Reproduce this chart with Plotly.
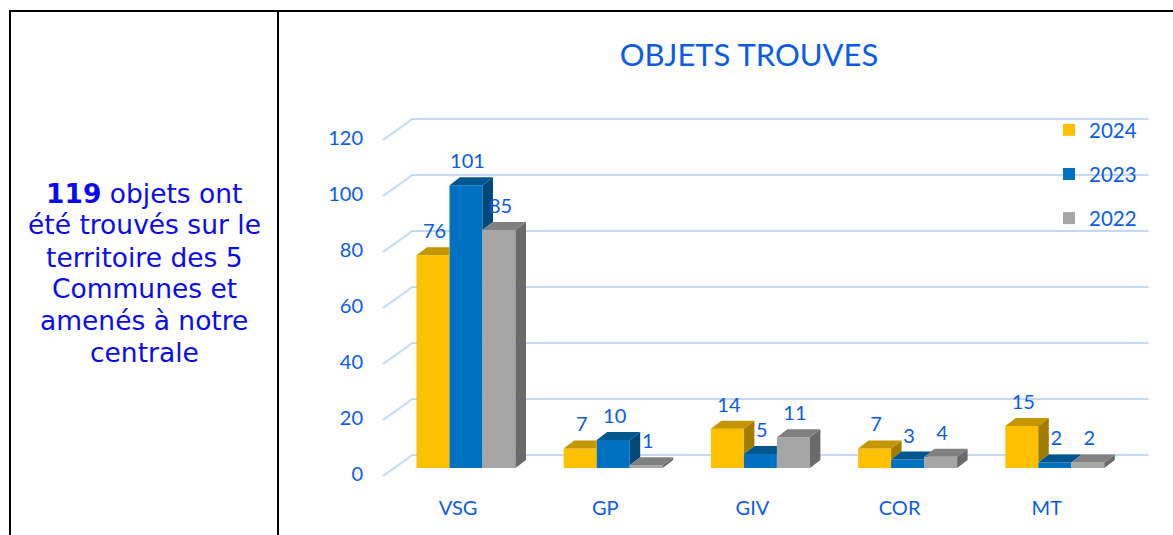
import plotly.graph_objects as go

# ---------------- data ----------------
categories = ["VSG", "GP", "GIV", "COR", "MT"]
series_names = ["2024", "2023", "2022"]
values_2024 = [76, 7, 14, 7, 15]
values_2023 = [101, 10, 5, 3, 2]
values_2022 = [85, 1, 11, 4, 2]
y_ticks = [0, 20, 40, 60, 80, 100, 120]
title_text = "OBJETS TROUVES"
side_lines = ["<b>119</b> objets ont", "été trouvés sur le", "territoire des 5",
              "Communes et", "amenés à notre", "centrale"]

# ---------------- styling / geometry ----------------
W, H = 1173, 535
X_C0, X_STEP = 466.0, 147.2      # px of category 0 centre, px per category
Y0, Y_SCALE = 468.0, 2.8         # px of value 0, px per unit
DOM_L, DOM_R, DOM_T, DOM_B = 372, 1160, 100, 490

front_cols = ["#FFC000", "#0070C0", "#A5A5A5"]
top_cols = ["#C49600", "#00578F", "#808080"]
side_cols = ["#A27C00", "#00487A", "#6A6A6A"]
grid_col = "#C3D7F7"
txt_col = "#0B5CE5"
left_col = "#0A0AF0"
FONT = "Lato"

BAR_W = 33 / X_STEP
DDX = 10.5 / X_STEP
DDY = 8 / Y_SCALE
BACK_DX, BACK_DY = 20 / X_STEP, 13 / Y_SCALE
FRONT_DX, FRONT_DY = -9.4 / X_STEP, -8 / Y_SCALE
LABEL_DY = -6 / Y_SCALE
CAT_LABEL_DX = -8 / X_STEP
VAL_LABEL_DX, VAL_LABEL_DY = 1.5 / X_STEP, 22 / Y_SCALE

all_vals = [values_2024, values_2023, values_2022]
n_cat = len(categories)
n_ser = len(all_vals)

fig = go.Figure()

# front faces (bars)
for k, (name, vals) in enumerate(zip(series_names, all_vals)):
    fig.add_trace(go.Bar(
        x=list(range(n_cat)), y=vals, name=name, width=BAR_W,
        offset=(k - n_ser / 2) * BAR_W,
        marker=dict(color=front_cols[k], line=dict(width=0)),
        legendgroup=name, hoverinfo="skip"))

# top and side faces, computed from the values
slope = DDY / DDX
for k, vals in enumerate(all_vals):
    tx, ty, sx, sy = [], [], [], []
    for i, v in enumerate(vals):
        x0 = i + (k - n_ser / 2) * BAR_W
        x1 = x0 + BAR_W
        vn = all_vals[k + 1][i] if k + 1 < n_ser else None
        # top face
        if vn is None or vn <= v:
            px = [x0, x1, x1 + DDX, x0 + DDX]
            py = [v, v, v + DDY, v + DDY]
        elif vn >= v + DDY:
            px = [x0, x1, x1, x0 + DDX]
            py = [v, v, v + DDY, v + DDY]
        else:
            px = [x0, x1, x1, x1 + (vn - v) / slope, x1 + DDX, x0 + DDX]
            py = [v, v, vn, vn, v + DDY, v + DDY]
        tx += px + [px[0], None]
        ty += py + [py[0], None]
        # side face (visible part above right neighbour)
        base = 0 if vn is None else vn
        if v > base:
            px = [x1, x1, x1 + DDX, x1 + DDX]
            py = [base, v, v + DDY, base + DDY]
            sx += px + [px[0], None]
            sy += py + [py[0], None]
    fig.add_trace(go.Scatter(x=sx, y=sy, fill="toself", mode="lines",
                             line=dict(width=0, color=side_cols[k]),
                             fillcolor=side_cols[k], showlegend=False,
                             hoverinfo="skip"))
    fig.add_trace(go.Scatter(x=tx, y=ty, fill="toself", mode="lines",
                             line=dict(width=0, color=top_cols[k]),
                             fillcolor=top_cols[k], showlegend=False,
                             hoverinfo="skip"))

# value labels
for k, vals in enumerate(all_vals):
    xs = [i + (k - n_ser / 2) * BAR_W + BAR_W / 2 + VAL_LABEL_DX for i in range(n_cat)]
    ys = [v + VAL_LABEL_DY for v in vals]
    fig.add_trace(go.Scatter(x=xs, y=ys, mode="text", text=[str(v) for v in vals],
                             textposition="middle center",
                             textfont=dict(family=FONT, size=20, color=txt_col),
                             showlegend=False, hoverinfo="skip"))

# back-wall gridlines (with the diagonal at the left side)
shapes = []
xl = -0.5
xr = n_cat - 0.5
for t in y_ticks:
    path = (f"M {xl + FRONT_DX},{t + FRONT_DY} L {xl + BACK_DX},{t + BACK_DY} "
            f"L {xr + BACK_DX},{t + BACK_DY}")
    shapes.append(dict(type="path", path=path, xref="x", yref="y", layer="below",
                       line=dict(color=grid_col, width=2)))

# table borders
bc = "#000000"
shapes += [
    dict(type="line", xref="paper", yref="paper", x0=9 / W, x1=1, y0=1 - 11 / H, y1=1 - 11 / H,
         line=dict(color=bc, width=2)),
    dict(type="line", xref="paper", yref="paper", x0=10 / W, x1=10 / W, y0=0, y1=1 - 10 / H,
         line=dict(color=bc, width=2)),
    dict(type="line", xref="paper", yref="paper", x0=278 / W, x1=278 / W, y0=0, y1=1 - 10 / H,
         line=dict(color=bc, width=2)),
]

annotations = []
line_centres = [193, 225, 257, 288, 320, 352]
for txt, yc in zip(side_lines, line_centres):
    annotations.append(dict(text=txt, xref="paper", yref="paper", x=144 / W, y=1 - yc / H,
                            xanchor="center", yanchor="middle", showarrow=False,
                            font=dict(family="DejaVu Sans", size=26.5, color=left_col)))

fig.update_layout(
    width=W, height=H,
    margin=dict(l=0, r=0, t=0, b=0),
    paper_bgcolor="white", plot_bgcolor="white",
    barmode="overlay",
    title=dict(text=title_text, x=749 / W, y=1 - 55 / H, xanchor="center", yanchor="middle",
               font=dict(family=FONT, size=31, color=txt_col)),
    xaxis=dict(domain=[DOM_L / W, DOM_R / W],
               range=[(DOM_L - X_C0) / X_STEP, (DOM_R - X_C0) / X_STEP],
               tickvals=[i + CAT_LABEL_DX for i in range(n_cat)], ticktext=categories,
               showgrid=False, zeroline=False, showline=False, ticks="",
               ticklabelstandoff=4,
               tickfont=dict(family=FONT, size=20, color=txt_col)),
    yaxis=dict(domain=[(H - DOM_B) / H, (H - DOM_T) / H],
               range=[(Y0 - DOM_B) / Y_SCALE, (Y0 - DOM_T) / Y_SCALE],
               tickvals=[t + LABEL_DY for t in y_ticks], ticktext=[str(t) for t in y_ticks],
               showgrid=False, zeroline=False, showline=False, ticks="",
               ticklabelstandoff=8,
               tickfont=dict(family=FONT, size=20, color=txt_col)),
    legend=dict(x=1049 / W, y=1 - 110 / H, xanchor="left", yanchor="top",
                tracegroupgap=14.5, itemwidth=30, bgcolor="rgba(0,0,0,0)",
                font=dict(family=FONT, size=20.5, color=txt_col)),
    shapes=shapes,
    annotations=annotations,
)

fig.write_html("out.html", config={"displayModeBar": False},
               post_script="document.body.style.margin='0';document.body.style.overflow='hidden';")
